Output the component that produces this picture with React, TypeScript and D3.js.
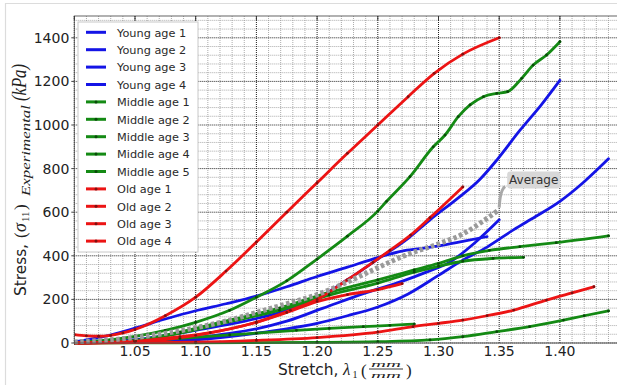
import React from 'react';
import * as d3 from 'd3';

type Pt = [number, number];

// Stretch (mm/mm) vs. stress (kPa) per specimen
const youngAge1: Pt[] = [[1.0, 0], [1.05, 15], [1.10, 58], [1.15, 112], [1.175, 150], [1.20, 205], [1.225, 290], [1.25, 385], [1.275, 480], [1.293, 565], [1.315, 660], [1.334, 750], [1.348, 839], [1.367, 975], [1.385, 1095], [1.40, 1205]];
const youngAge2: Pt[] = [[1.0, 0], [1.05, 5], [1.10, 15], [1.15, 45], [1.175, 65], [1.20, 90], [1.225, 125], [1.25, 165], [1.275, 225], [1.30, 310], [1.32, 380], [1.34, 440], [1.362, 520], [1.38, 580], [1.40, 650], [1.42, 740], [1.44, 845]];
const youngAge3: Pt[] = [[1.0, 0], [1.05, 8], [1.10, 25], [1.128, 44], [1.15, 65], [1.175, 100], [1.205, 160], [1.24, 230], [1.271, 285], [1.29, 325], [1.309, 370], [1.33, 460], [1.35, 565]];
const youngAge4: Pt[] = [[1.0, 5], [1.025, 30], [1.05, 68], [1.075, 110], [1.10, 148], [1.125, 180], [1.15, 215], [1.175, 258], [1.20, 305], [1.225, 348], [1.25, 392], [1.27, 422], [1.285, 433], [1.30, 445], [1.32, 466], [1.34, 488]];
const middleAge1: Pt[] = [[1.0, 0], [1.03, 15], [1.05, 30], [1.075, 58], [1.10, 95], [1.128, 150], [1.15, 210], [1.175, 285], [1.20, 385], [1.225, 490], [1.25, 605], [1.2573, 650], [1.2765, 763], [1.2957, 900], [1.3054, 954], [1.3163, 1038], [1.326, 1092], [1.337, 1130], [1.348, 1145], [1.357, 1153], [1.3685, 1214], [1.378, 1275], [1.389, 1321], [1.40, 1382]];
const middleAge2: Pt[] = [[1.0, 0], [1.05, 12], [1.087, 50], [1.128, 105], [1.169, 160], [1.21, 232], [1.25, 290], [1.28, 335], [1.30, 365], [1.32, 400], [1.342, 425], [1.367, 442], [1.397, 460], [1.44, 491]];
const middleAge3: Pt[] = [[1.0, 0], [1.05, 10], [1.087, 45], [1.128, 98], [1.169, 150], [1.21, 220], [1.25, 275], [1.28, 325], [1.30, 352], [1.32, 375], [1.345, 388], [1.37, 393]];
const middleAge4: Pt[] = [[1.0, 0], [1.05, 8], [1.087, 21], [1.128, 37], [1.15, 45], [1.183, 58], [1.21, 67], [1.238, 75], [1.26, 81], [1.28, 87]];
const middleAge5: Pt[] = [[1.0, 0], [1.10, 1], [1.20, 3], [1.25, 6], [1.293, 14], [1.32, 29], [1.348, 52], [1.375, 75], [1.403, 105], [1.42, 125], [1.44, 147]];
const oldAge1: Pt[] = [[1.0, 38], [1.01, 33], [1.02, 31], [1.03, 35], [1.04, 46], [1.05, 62], [1.075, 125], [1.10, 210], [1.125, 330], [1.15, 463], [1.175, 600], [1.20, 735], [1.225, 870], [1.25, 1000], [1.275, 1130], [1.2965, 1237], [1.32, 1325], [1.35, 1400]];
const oldAge2: Pt[] = [[1.0, 0], [1.05, 5], [1.10, 35], [1.15, 95], [1.178, 150], [1.20, 200], [1.225, 290], [1.246, 370], [1.26, 425], [1.277, 495], [1.293, 575], [1.32, 716]];
const oldAge3: Pt[] = [[1.0, 0], [1.05, 8], [1.087, 29], [1.112, 48], [1.15, 95], [1.175, 140], [1.20, 190], [1.225, 222], [1.25, 245], [1.27, 272]];
const oldAge4: Pt[] = [[1.0, 0], [1.10, 4], [1.15, 12], [1.20, 25], [1.25, 50], [1.279, 75], [1.30, 90], [1.32, 105], [1.34, 125], [1.362, 151], [1.389, 197], [1.41, 230], [1.428, 258]];
const average: Pt[] = [[1.0, 5], [1.05, 25], [1.10, 70], [1.128, 105], [1.15, 140], [1.178, 185], [1.20, 222], [1.225, 280], [1.246, 335], [1.274, 405], [1.30, 455], [1.32, 500], [1.337, 560], [1.35, 612]];

const seriesNames = ['Young age 1', 'Young age 2', 'Young age 3', 'Young age 4', 'Middle age 1', 'Middle age 2', 'Middle age 3', 'Middle age 4', 'Middle age 5', 'Old age 1', 'Old age 2', 'Old age 3', 'Old age 4'];
const seriesData = [youngAge1, youngAge2, youngAge3, youngAge4, middleAge1, middleAge2, middleAge3, middleAge4, middleAge5, oldAge1, oldAge2, oldAge3, oldAge4];
const seriesGroups = ['young', 'young', 'young', 'young', 'middle', 'middle', 'middle', 'middle', 'middle', 'old', 'old', 'old', 'old'];

const xTicks = [1.05, 1.10, 1.15, 1.20, 1.25, 1.30, 1.35, 1.40];
const yTicks = [0, 200, 400, 600, 800, 1000, 1200, 1400];
const averageLabel = 'Average';

const groupColor: Record<string, string> = { young: '#1414e6', middle: '#148a14', old: '#ec1414' };
const markerColor: Record<string, string> = { young: '#0a0a80', middle: '#0a4a0a', old: '#801010' };

const W = 617;
const H = 385;
const PL = 74.3;
const PR = 620.6;
const PT = 16;
const PB = 343;

export default function App() {
  const x = d3.scaleLinear().domain([1.0, 1.45]).range([PL, PR]);
  const y = d3.scaleLinear().domain([0, 1500]).range([PB, PT]);
  const line = d3.line<Pt>().x(d => x(d[0])).y(d => y(d[1])).curve(d3.curveMonotoneX);

  const xMinor = d3.range(0, 46).map(i => +(1 + i * 0.01).toFixed(2));
  const yMinor = d3.range(0, 38).map(i => i * 40);
  const xMajor = d3.range(0, 10).map(i => +(1 + i * 0.05).toFixed(2));
  const isMajorX = (v: number) => Math.abs(Math.round(v * 20) - v * 20) < 1e-6;

  const avgEnd = average[average.length - 1];
  const ax = x(avgEnd[0]);
  const ay = y(avgEnd[1]);
  const boxX = ax + 8;
  const boxY = ay - 38;

  const legendX = 78;
  const legendY = 22;
  const rowH = 17.4;

  const sans = '"DejaVu Sans", Verdana, sans-serif';
  const serif = '"Liberation Serif", "DejaVu Serif", serif';

  return (
    <svg width={W} height={H} style={{ position: 'absolute', left: 0, top: 0, background: '#fff' }}>
      <defs>
        <clipPath id="plotClip">
          <rect x={PL} y={PT - 2} width={PR - PL} height={PB - PT + 4} />
        </clipPath>
      </defs>
      <rect x={0} y={0} width={W} height={H} fill="#fff" />
      {/* figure frame */}
      <path d={`M5.5,${H + 5} V3.5 H${W + 5}`} fill="none" stroke="#dcdcdc" strokeWidth={1.2} />

      {/* grid */}
      <g>
        {xMinor.filter(v => !isMajorX(v)).map(v => (
          <line key={'xm' + v} x1={x(v)} x2={x(v)} y1={PT} y2={PB} stroke="#959595" strokeWidth={0.8} strokeDasharray="1 1" />
        ))}
        {yMinor.filter(v => v % 200 !== 0).map(v => (
          <line key={'ym' + v} x1={PL} x2={PR} y1={y(v)} y2={y(v)} stroke="#959595" strokeWidth={0.8} strokeDasharray="1 1" />
        ))}
        {xMajor.map(v => (
          <line key={'xM' + v} x1={x(v)} x2={x(v)} y1={PT} y2={PB} stroke="#222" strokeWidth={1} strokeDasharray="1 1" />
        ))}
        {yTicks.map(v => (
          <line key={'yM' + v} x1={PL} x2={PR} y1={y(v)} y2={y(v)} stroke="#222" strokeWidth={1} strokeDasharray="1 1" />
        ))}
      </g>

      {/* series */}
      <g clipPath="url(#plotClip)">
        {seriesData.map((data, i) => (
          <path key={seriesNames[i]} d={line(data) || ''} fill="none" stroke={groupColor[seriesGroups[i]]} strokeWidth={2.8} strokeLinejoin="round" strokeLinecap="round" />
        ))}
        {seriesData.map((data, i) =>
          seriesGroups[i] === 'young' ? null : data.map((d, j) => (
            <circle key={seriesNames[i] + j} cx={x(d[0])} cy={y(d[1])} r={1.4} fill={markerColor[seriesGroups[i]]} />
          ))
        )}
        <path d={line(average) || ''} fill="none" stroke="#9a9a9a" strokeWidth={5} strokeDasharray="3.5 2.5" />
      </g>

      {/* annotation */}
      <path d={`M${ax},${ay - 2} Q${ax + 1},${ay - 20} ${boxX - 2},${boxY + 15}`} fill="none" stroke="#a8a8a8" strokeWidth={3} />
      <rect x={boxX} y={boxY} width={53} height={17} rx={3} fill="#d8d8d8" />
      <text x={boxX + 26.5} y={boxY + 12.8} textAnchor="middle" fontFamily={sans} fontSize={12} fill="#333">{averageLabel}</text>

      {/* legend */}
      <rect x={legendX} y={legendY} width={120} height={230} fill="#fff" stroke="#c8c8c8" strokeWidth={1} />
      {seriesNames.map((name, i) => {
        const cy = legendY + 10.3 + i * rowH;
        const g = seriesGroups[i];
        return (
          <g key={'lg' + name}>
            <line x1={86} x2={106} y1={cy} y2={cy} stroke={groupColor[g]} strokeWidth={3} />
            {g !== 'young' && <circle cx={96} cy={cy} r={1.5} fill={markerColor[g]} />}
            <text x={117} y={cy + 4.2} fontFamily={sans} fontSize={11.3} fill="#2a2a2a">{name}</text>
          </g>
        );
      })}

      {/* axes frame and ticks */}
      <rect x={PL} y={PT} width={PR - PL} height={PB - PT} fill="none" stroke="#555" strokeWidth={0.9} />
      {yTicks.map(v => (
        <line key={'yt' + v} x1={PL - 3} x2={PL} y1={y(v)} y2={y(v)} stroke="#444" strokeWidth={1} />
      ))}
      {xMajor.map(v => (
        <line key={'xt' + v} x1={x(v)} x2={x(v)} y1={PT} y2={PT + 4} stroke="#333" strokeWidth={1} />
      ))}

      {/* tick labels */}
      {yTicks.map(v => (
        <text key={'yl' + v} x={PL - 5} y={y(v) + 5} textAnchor="end" fontFamily={sans} fontSize={14} fill="#222">{v}</text>
      ))}
      {xTicks.map(v => (
        <text key={'xl' + v} x={x(v)} y={356} textAnchor="middle" fontFamily={sans} fontSize={14} fill="#222">{v.toFixed(2)}</text>
      ))}

      {/* x-axis title */}
      <g fill="#222">
        <text x={278} y={375} fontFamily={sans} fontSize={15.4}>Stretch,</text>
        <text x={343} y={375} fontFamily={serif} fontStyle="italic" fontSize={17}>λ</text>
        <text x={352.5} y={378} fontFamily={serif} fontSize={10}>1</text>
        <text x={361} y={376} fontFamily={serif} fontSize={17}>(</text>
        <text x={371} y={367} fontFamily={serif} fontStyle="italic" fontSize={8.5} textLength={30} lengthAdjust="spacingAndGlyphs">mm</text>
        <line x1={369} x2={403} y1={369} y2={369} stroke="#222" strokeWidth={0.9} />
        <text x={371} y={378} fontFamily={serif} fontStyle="italic" fontSize={8.5} textLength={30} lengthAdjust="spacingAndGlyphs">mm</text>
        <text x={406} y={376} fontFamily={serif} fontSize={17}>)</text>
      </g>

      {/* y-axis title */}
      <g transform="rotate(-90)" fill="#222">
        <text x={-296} y={26} fontFamily={sans} fontSize={15.6} textLength={52} lengthAdjust="spacingAndGlyphs">Stress,</text>
        <text x={-238} y={26} fontFamily={serif} fontSize={17}>(</text>
        <text x={-232} y={26} fontFamily={serif} fontStyle="italic" fontSize={18}>σ</text>
        <text x={-222} y={29} fontFamily={serif} fontSize={11}>11</text>
        <text x={-210} y={26} fontFamily={serif} fontSize={17}>)</text>
        <text x={-196} y={29.5} fontFamily={serif} fontStyle="italic" fontSize={13} textLength={91} lengthAdjust="spacingAndGlyphs">Experimental</text>
        <text x={-101} y={26} fontFamily={serif} fontStyle="italic" fontSize={20} textLength={37} lengthAdjust="spacingAndGlyphs">(kPa)</text>
      </g>
    </svg>
  );
}
